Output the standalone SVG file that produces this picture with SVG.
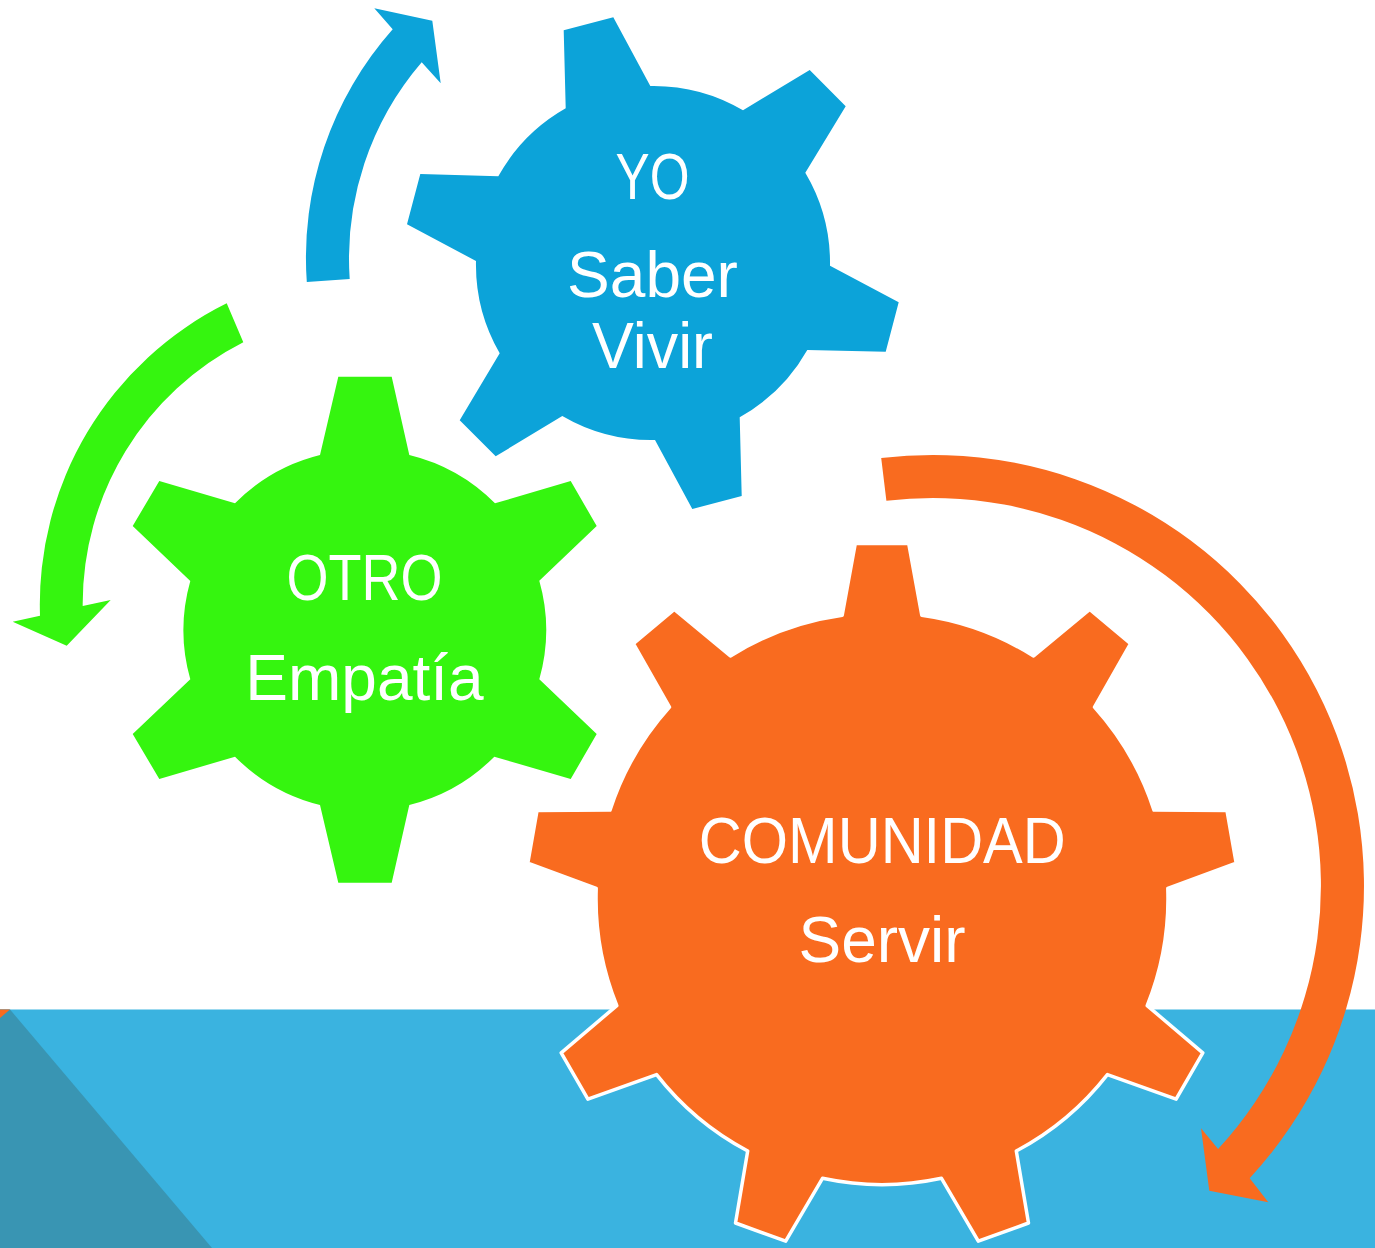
<svg xmlns="http://www.w3.org/2000/svg" width="1375" height="1248" viewBox="0 0 1375 1248">
<style>
.lbl{font-family:"Liberation Sans",Arial,sans-serif;font-size:64px;fill:#ffffff;text-anchor:middle}
.blue{fill:#0CA3D9}
.green{fill:#35F50F}
.orange{fill:#F96B1F}
.gearO{fill:#F96B1F;stroke:#ffffff;stroke-width:3.5;stroke-linejoin:round}
</style>
<rect x="0" y="0" width="1375" height="1248" fill="#ffffff"/>
<g id="background">
<rect x="0" y="1009.5" width="1375" height="238.5" fill="#3AB3E0"/>
<polygon points="0,1009.5 10,1009.5 212,1248 0,1248" fill="#3995B3"/>
<polygon points="0,1009.5 10,1009.5 0,1018" fill="#F96B1F"/>
</g>
<g id="connectors">
<path class="blue" d="M306.8 282 A344 344 0 0 1 392.7 29.3 L374.3 8.3 L432.3 20.7 L440.7 83.3 L421.7 62.3 A301 301 0 0 0 349.7 279 Z"/>
<path class="green" d="M226.7 303.3 A336 336 0 0 0 40 615.7 L12.7 621.7 L66.7 645.7 L110.7 600 L82.7 606 A293 293 0 0 1 243.3 342.3 Z"/>
<path class="orange" d="M881.2 458.1 A431 431 0 0 1 1249.7 1178.3 L1268.3 1202.3 L1209.3 1190.7 L1201 1128.3 L1218.1 1149.1 A388 388 0 0 0 886.4 500.8 Z"/>
</g>
<g id="node-yo">
<path class="blue" d="M565.7 108.3 L563.7 30.3 L613.3 17.3 L650.3 86 A177 177 0 0 1 743 110.3 L809.7 70 L845.7 106.3 L805.3 172.7 A177 177 0 0 1 830 265.7 L898.7 302.3 L885.7 351.7 L807.3 350 A177 177 0 0 1 739.7 417.3 L741.7 496 L692.3 509 L655 440 A177 177 0 0 1 562.3 416 L495.7 456.3 L459.7 420.3 L499.7 353.3 A177 177 0 0 1 476 261 L407 224.3 L420.3 174 L498.3 176.3 A177 177 0 0 1 565.7 108.3 Z"/>
<text class="lbl" x="652.5" y="199" textLength="74" lengthAdjust="spacingAndGlyphs">YO</text>
<text class="lbl" x="652.5" y="297">Saber</text>
<text class="lbl" x="652.5" y="368" textLength="121" lengthAdjust="spacingAndGlyphs">Vivir</text>
</g>
<g id="node-otro">
<path class="green" d="M320 455 L338.3 376.7 L391.7 376.7 L409.3 455 A181 181 0 0 1 495 503.3 L570.7 481 L596.7 526 L539.3 580.7 A181 181 0 0 1 539.3 679.3 L596.7 734 L570.7 779 L494.3 756.7 A181 181 0 0 1 409.3 805 L391.7 882.7 L338.3 882.7 L320 805 A181 181 0 0 1 235 756.7 L159.3 779 L132.7 734 L190.3 679.3 A181 181 0 0 1 190.3 581 L132.7 526 L159.3 481 L235 503.3 A181 181 0 0 1 320 455 Z"/>
<text class="lbl" x="364.5" y="600" textLength="156" lengthAdjust="spacingAndGlyphs">OTRO</text>
<text class="lbl" x="364.5" y="700">Empatía</text>
</g>
<g id="node-comunidad">
<path class="gearO" d="M842.2 615.3 L855.3 543.5 L908.7 543.5 L921.8 615.3 A286 286 0 0 1 1033.6 656 L1089.7 609.4 L1130.6 643.7 L1094.5 707.1 A286 286 0 0 1 1154 810.1 L1227 810.6 L1236.2 863.1 L1167.8 888.5 A286 286 0 0 1 1147.2 1005.6 L1202.8 1052.9 L1176.1 1099.1 L1107.4 1074.6 A286 286 0 0 1 1016.3 1151 L1028.5 1223 L978.3 1241.2 L941.5 1178.3 A286 286 0 0 1 822.5 1178.3 L785.7 1241.2 L735.5 1223 L747.7 1151 A286 286 0 0 1 656.6 1074.6 L587.9 1099.1 L561.2 1052.9 L616.8 1005.6 A286 286 0 0 1 596.2 888.5 L527.8 863.1 L537 810.6 L610 810.1 A286 286 0 0 1 669.5 707.1 L633.4 643.7 L674.3 609.4 L730.4 656 A286 286 0 0 1 842.2 615.3 Z"/>
<text class="lbl" x="882.3" y="863" textLength="367" lengthAdjust="spacingAndGlyphs">COMUNIDAD</text>
<text class="lbl" x="882" y="962">Servir</text>
</g>
</svg>
